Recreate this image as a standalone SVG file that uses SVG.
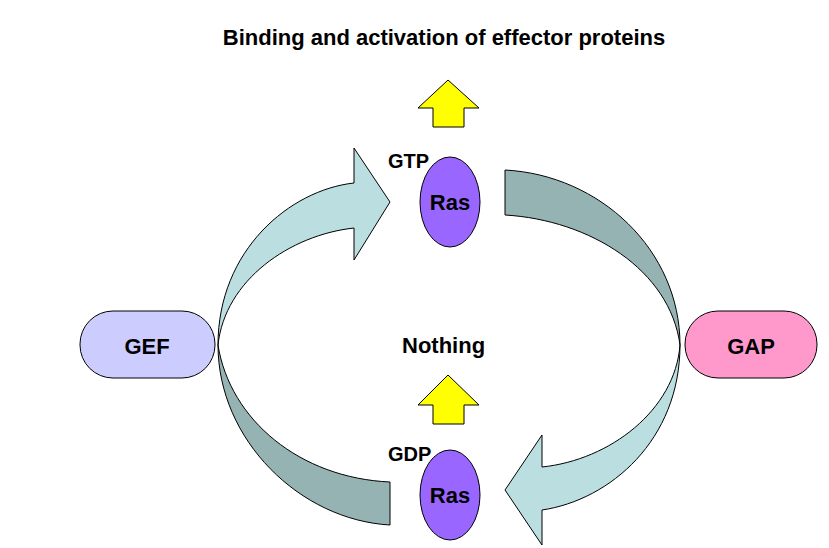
<svg xmlns="http://www.w3.org/2000/svg" width="829" height="548" viewBox="0 0 829 548">
<style>
text{font-family:"Liberation Sans",Arial,sans-serif;font-weight:bold;fill:#000}
.s{stroke:#000;stroke-width:1}
.lb{fill:#BBDFE1}.dk{fill:#96B3B3}.y{fill:#FFFF00}
</style>
<rect width="829" height="548" fill="#fff"/>
<g id="connectors">
<path class="s lb" d="M218,345 C218,250 290,190 354,183 L354,148 L390,202 L354,260 L354,228 C290,235 225,280 218,345 Z"/>
<path class="s dk" d="M218,345 C218,440 300,520 390,525 L390,482 C300,478 230,420 218,345 Z"/>
<path class="s dk" d="M680,345 C680,250 600,175 505,170 L505,215 C590,220 670,270 680,345 Z"/>
<path class="s lb" d="M680,345 C680,440 610,500 542,510 L542,545 L505,490 L542,435 L542,467 C610,460 675,410 680,345 Z"/>
<path class="s y" d="M448,80 L479,108 L464,108 L464,127 L433,127 L433,108 L418,108 Z"/>
<path class="s y" d="M448,375 L479,405 L464,405 L464,424 L433,424 L433,405 L418,405 Z"/>
</g>
<g id="title"><text x="444" y="45" font-size="22" text-anchor="middle">Binding and activation of effector proteins</text></g>
<g id="gef"><rect class="s" x="80" y="311" width="135" height="67" rx="33" fill="#CCCCFF"/><text x="147" y="354" font-size="22" text-anchor="middle">GEF</text></g>
<g id="gap"><rect class="s" x="685" y="311" width="132" height="67" rx="33" fill="#FF99CC"/><text x="751" y="354" font-size="22" text-anchor="middle">GAP</text></g>
<g id="ras-gtp"><ellipse class="s" cx="450" cy="202" rx="30" ry="45" fill="#9966FF"/><text x="450" y="210" font-size="22" text-anchor="middle">Ras</text><text x="388" y="168" font-size="20">GTP</text></g>
<g id="ras-gdp"><ellipse class="s" cx="450" cy="495" rx="30" ry="45" fill="#9966FF"/><text x="450" y="503" font-size="22" text-anchor="middle">Ras</text><text x="388" y="461" font-size="20">GDP</text></g>
<g id="nothing"><text x="402" y="353" font-size="22">Nothing</text></g>
</svg>
